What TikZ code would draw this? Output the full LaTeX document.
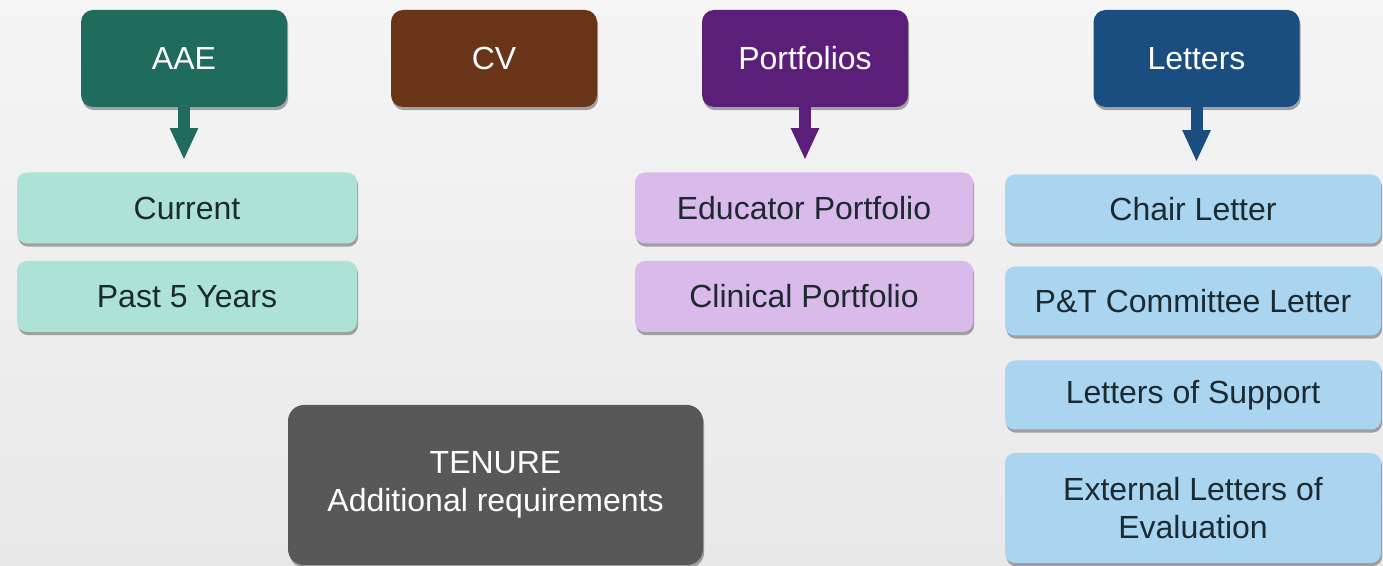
\documentclass[tikz,border=0pt]{standalone}
\usepackage{fontspec}
\setmainfont{Liberation Sans}
\usetikzlibrary{arrows.meta,shadows}
\definecolor{aaedark}{HTML}{1F6B5C}
\definecolor{aaelight}{HTML}{ACE3D6}
\definecolor{cvdark}{HTML}{6A3419}
\definecolor{portdark}{HTML}{5B1F7A}
\definecolor{portlight}{HTML}{DABAEA}
\definecolor{letdark}{HTML}{1B4E80}
\definecolor{letlight}{HTML}{AAD5F1}
\definecolor{tenuregray}{HTML}{585858}
\definecolor{itemtext}{HTML}{1C2A30}
\begin{document}
\begin{tikzpicture}[x=0.5pt,y=-0.5pt,
    every node/.style={font=\fontsize{16}{19}\selectfont, align=center, inner sep=0pt},
    boxshadow/.style={drop shadow={shadow xshift=0.6pt, shadow yshift=-1.6pt, opacity=0.7}},
    headbox/.style={boxshadow, fill=#1, text=white, rounded corners=6pt,
        minimum width=103pt, minimum height=48.5pt},
    itembox/.style={boxshadow, fill=#1, text=itemtext, rounded corners=5pt,
        minimum height=35.5pt},
    downarrow/.style={draw=#1, line width=6pt, shorten >=6pt,
        -{Triangle[width=13pt,length=16pt]}}]
    % background
    \shade[top color=black!4, bottom color=black!9] (0,0) rectangle (1383,566);
    \useasboundingbox (0,0) rectangle (1383,566);

    % headers
    \node[headbox=aaedark] (aae) at (184,58.5) {AAE};
    \node[headbox=cvdark] (cv) at (494,58.5) {CV};
    \node[headbox=portdark] (port) at (805,58.5) {Portfolios};
    \node[headbox=letdark] (let) at (1196.5,58.5) {Letters};

    % AAE items
    \node[itembox=aaelight, minimum width=170pt] (current) at (187,208) {Current};
    \node[itembox=aaelight, minimum width=170pt] (past) at (187,296.5) {Past 5 Years};

    % portfolio items
    \node[itembox=portlight, minimum width=169pt] (educ) at (804,208) {Educator Portfolio};
    \node[itembox=portlight, minimum width=169pt] (clin) at (804,296.5) {Clinical Portfolio};

    % letters items
    \node[itembox=letlight, minimum width=188pt, minimum height=34.5pt] (chair) at (1193,209) {Chair Letter};
    \node[itembox=letlight, minimum width=188pt, minimum height=34.5pt] (ptc) at (1193,301) {P\&T Committee Letter};
    \node[itembox=letlight, minimum width=188pt, minimum height=34.5pt] (support) at (1193,395) {Letters of Support};
    \node[itembox=letlight, minimum width=188pt, minimum height=55pt] (external) at (1193,508) {External Letters of\\Evaluation};

    % tenure
    \node[boxshadow, fill=tenuregray, text=white, rounded corners=8pt,
        minimum width=207.5pt, minimum height=80pt] (tenure) at (495.5,485) {TENURE\\Additional requirements};

    % arrows
    \draw[downarrow=aaedark] (aae.south) -- (current.north -| aae.south);
    \draw[downarrow=portdark] (port.south) -- (educ.north -| port.south);
    \draw[downarrow=letdark] (let.south) -- (chair.north -| let.south);
\end{tikzpicture}
\end{document}
